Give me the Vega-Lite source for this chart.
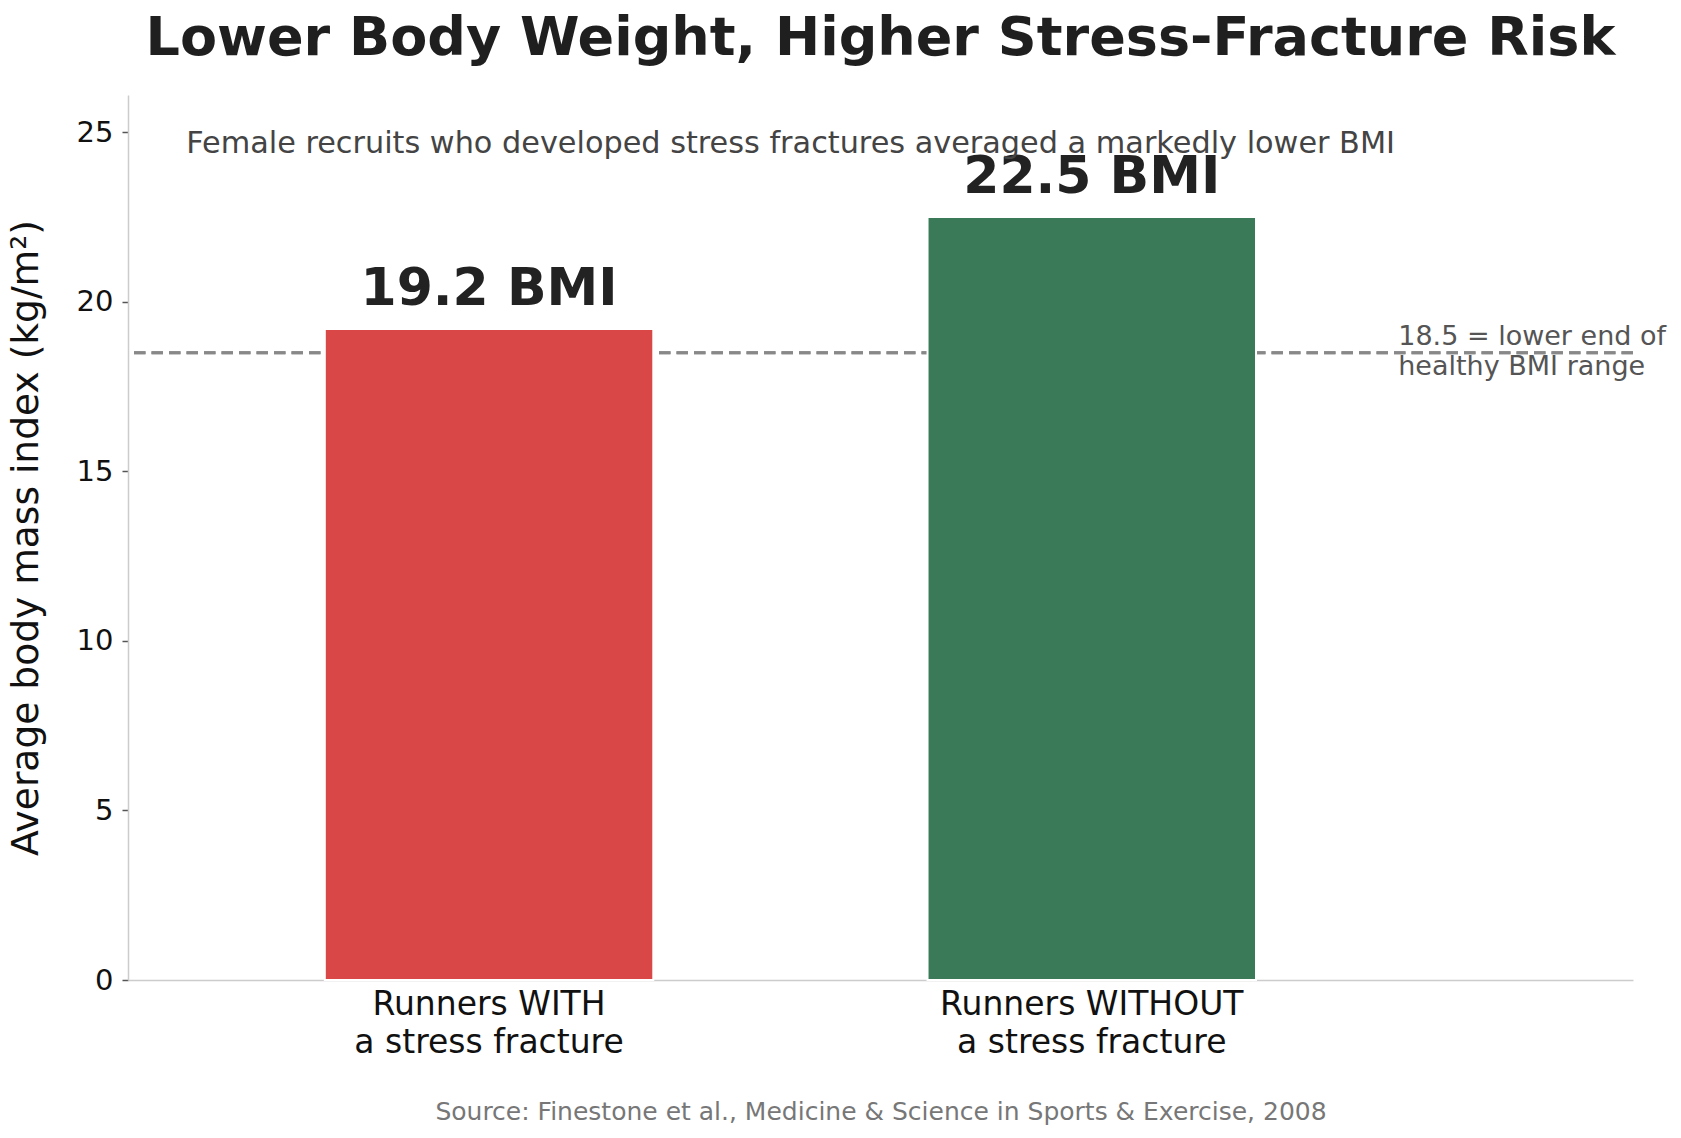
{
  "$schema": "https://vega.github.io/schema/vega-lite/v6.json",
  "width": 1505,
  "height": 885,
  "autosize": {"type": "none"},
  "padding": {"left": 128, "top": 95, "right": 48, "bottom": 158},
  "background": "white",
  "title": {
    "text": "Lower Body Weight, Higher Stress-Fracture Risk",
    "fontSize": 54,
    "fontWeight": "bold",
    "color": "#1f1f1f",
    "anchor": "middle",
    "baseline": "alphabetic",
    "offset": 38,
    "dy": 52
  },
  "datasets": {
    "bmi": [
      {"group": "Runners WITH\na stress fracture", "bmi": 19.2, "label": "19.2 BMI"},
      {"group": "Runners WITHOUT\na stress fracture", "bmi": 22.5, "label": "22.5 BMI"}
    ]
  },
  "data": {"name": "bmi"},
  "encoding": {
    "x": {
      "field": "group",
      "type": "nominal",
      "sort": null,
      "scale": {"paddingInner": 0.455, "paddingOuter": 0.476, "align": 0.343},
      "axis": {
        "title": "Source: Finestone et al., Medicine & Science in Sports & Exercise, 2008",
        "titleFontSize": 25,
        "titleFontWeight": "normal",
        "titleColor": "#777777",
        "titlePadding": 40,
        "labelAngle": 0,
        "labelExpr": "split(datum.label, '\\n')",
        "labelLimit": 0,
        "labelFontSize": 33,
        "labelLineHeight": 38,
        "labelColor": "#111111",
        "labelPadding": 8,
        "ticks": false,
        "grid": false,
        "domainColor": "#cccccc",
        "domainWidth": 1.5
      }
    }
  },
  "layer": [
    {
      "mark": {"type": "rule", "color": "#888888", "strokeWidth": 3, "strokeDash": [11.5, 6]},
      "encoding": {
        "x": null,
        "y": {"datum": 18.5, "type": "quantitative"}
      }
    },
    {
      "mark": {"type": "bar", "stroke": "white", "strokeWidth": 2},
      "encoding": {
        "y": {
          "field": "bmi",
          "type": "quantitative",
          "scale": {"domain": [0, 26.1], "nice": false},
          "axis": {
            "title": "Average body mass index (kg/m²)",
            "titleFontSize": 37.6,
            "titleFontWeight": "normal",
            "titleColor": "#111111",
            "titlePadding": 31,
            "values": [0, 5, 10, 15, 20, 25],
            "labelFontSize": 29,
            "labelColor": "#111111",
            "labelPadding": 9,
            "tickSize": 6,
            "tickWidth": 1.5,
            "tickColor": "#555555",
            "gridColor": "#ebebeb",
            "gridWidth": 1.5,
            "domainColor": "#cccccc",
            "domainWidth": 1.5
          }
        },
        "color": {
          "field": "group",
          "type": "nominal",
          "sort": null,
          "scale": {"range": ["#d94847", "#3b7a58"]},
          "legend": null
        }
      }
    },
    {
      "mark": {"type": "text", "fontSize": 52, "fontWeight": "bold", "color": "#222222", "baseline": "alphabetic", "dy": -24},
      "encoding": {
        "y": {"field": "bmi", "type": "quantitative"},
        "text": {"field": "label"}
      }
    },
    {
      "data": {"values": [{"note": "Female recruits who developed stress fractures averaged a markedly lower BMI"}]},
      "mark": {"type": "text", "fontSize": 30.3, "color": "#444444", "align": "center", "baseline": "alphabetic"},
      "encoding": {
        "x": {"datum": "Runners WITH\na stress fracture", "type": "nominal", "bandPosition": 1.418},
        "y": {"datum": 24.4, "type": "quantitative"},
        "text": {"field": "note"}
      }
    },
    {
      "data": {"values": [{"note": ["18.5 = lower end of", "healthy BMI range"]}]},
      "mark": {"type": "text", "fontSize": 27, "color": "#555555", "align": "left", "baseline": "middle", "lineHeight": 30, "dy": -16},
      "encoding": {
        "x": {"datum": "Runners WITHOUT\na stress fracture", "type": "nominal", "bandPosition": 1.433},
        "y": {"datum": 18.5, "type": "quantitative"},
        "text": {"field": "note"}
      }
    }
  ],
  "config": {
    "font": "DejaVu Sans",
    "view": {"stroke": null}
  }
}
